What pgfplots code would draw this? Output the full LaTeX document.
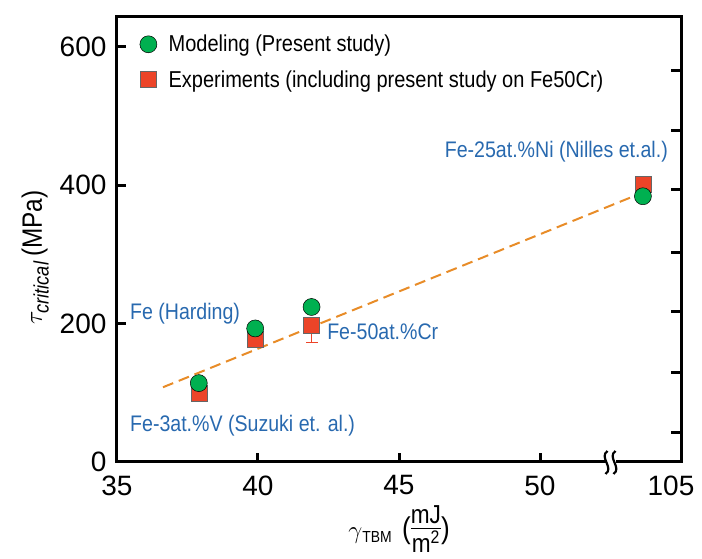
\documentclass[border=0pt]{standalone}
\usepackage{pgfplots}
\pgfplotsset{compat=1.18}
\usepackage{fontspec}
\setmainfont{Liberation Sans}
\newfontfamily\cond[FakeStretch=0.87]{Liberation Sans}
\definecolor{mgreen}{RGB}{0,176,80}
\definecolor{mred}{RGB}{236,68,40}
\definecolor{mblue}{RGB}{40,105,175}
\definecolor{morange}{RGB}{232,140,40}
\begin{document}
\begin{tikzpicture}
\useasboundingbox (-117pt,-97pt) rectangle (585pt,462pt);
\begin{axis}[
  scale only axis, width=564pt, height=445pt,
  xmin=35, xmax=55, ymin=0, ymax=643,
  axis line style={line width=3pt},
  xtick={35,40,45,50,55}, xticklabels={35,40,45,50,105\hspace*{20pt}},
  ytick={0,200,400,600},
  xtick pos=bottom, ytick pos=left,
  tick align=inside, major tick length=9pt,
  tick style={line width=3pt, black},
  /pgf/number format/assume math mode=true,
  tick label style={font=\fontsize{28}{30}\selectfont},
  xticklabel style={anchor=north, yshift=-10pt},
  yticklabel style={xshift=-7pt},
  xlabel={$\gamma$\textsubscript{\fontsize{16}{17}\selectfont\cond TBM}\,\,({\fontsize{26}{28}\selectfont\cond\begin{tabular}{@{}c@{}}mJ\\[-3pt]\hline\rule{0pt}{24pt}m\textsuperscript{2}\end{tabular}})},
  xlabel style={font=\fontsize{30}{32}\selectfont\cond, at={(axis description cs:0.5,-0.158)}, anchor=center},
  ylabel={$\tau_{\textit{\fontsize{21}{22}\selectfont critical}}$\,(MPa)},
  ylabel style={font=\fontsize{28}{30}\selectfont\cond, at={(axis description cs:-0.145,0.46)}, anchor=center, rotate=0},
  legend image code/.code={\draw[#1, mark repeat=1] plot coordinates {(0pt,0pt)}; \path (-9pt,0pt) (19pt,0pt);},
  legend style={at={(rel axis cs:0,1)}, anchor=north west, draw=none, fill=none, inner sep=0pt,
    font=\fontsize{23}{26}\selectfont\cond, row sep=15pt, xshift=22pt, yshift=-17pt,
    nodes={inner xsep=1pt, inner ysep=1pt}},
  legend cell align=left,
  clip=false,
]
\addlegendimage{only marks, mark=*, mark size=8.5pt, mark options={fill=mgreen, draw=black, line width=0.5pt}}
\addlegendimage{only marks, mark=square*, mark size=8pt, mark options={fill=mred, draw=black!60, line width=0.5pt}}
\legend{Modeling (Present study), Experiments (including present study on Fe50Cr)}

\addplot[forget plot, morange, line width=2pt, dash pattern=on 11pt off 6pt] coordinates {(36.63,108) (53.26,383)};

\addplot[forget plot, only marks, mark=square*, mark size=8pt, mark options={fill=mred, draw=black!60, line width=0.5pt},
  error bars/.cd, y dir=minus, y explicit, error bar style={mred, line width=1.2pt}, error mark options={rotate=90, mark size=6pt, mred, line width=1.2pt}]
  coordinates {(37.9,100) -= (0,0) (39.9,177) -= (0,0) (41.9,198) -= (0,25) (53.65,401) -= (0,0)};

\addplot[forget plot, only marks, mark=*, mark size=8.5pt, mark options={fill=mgreen, draw=black, line width=0.5pt}]
  coordinates {(37.9,114) (39.9,193) (41.9,224) (53.65,384)};

\node[anchor=west, mblue, font=\fontsize{22.5}{24}\selectfont\cond, inner sep=0pt] at (axis cs:35.46,215) {Fe (Harding)};
\node[anchor=west, mblue, font=\fontsize{22.5}{24}\selectfont\cond, inner sep=0pt] at (axis cs:42.45,188) {Fe-50at.\%Cr};
\node[anchor=west, mblue, font=\fontsize{22.5}{24}\selectfont\cond, inner sep=0pt] at (axis cs:35.46,53) {Fe-3at.\%V (Suzuki et. al.)};
\node[anchor=east, mblue, font=\fontsize{22.5}{24}\selectfont\cond, inner sep=0pt] at (axis cs:54.54,448) {Fe-25at.\%Ni (Nilles et.al.)};

\coordinate (brk) at (axis cs:52.5,0);
\end{axis}
\begin{axis}[
  scale only axis, width=564pt, height=445pt,
  xmin=35, xmax=55, ymin=0, ymax=643,
  hide x axis, axis y line*=right,
  axis line style={line width=3pt},
  ytick={42,130,217,302,394,479,566}, yticklabels={},
  tick align=inside, major tick length=10pt,
  tick style={line width=3pt, black},
]
\end{axis}
\fill[white] ([xshift=-5pt,yshift=-2.5pt]brk) rectangle ([xshift=5pt,yshift=2.5pt]brk);
\draw[line width=2.2pt] ([xshift=-5pt,yshift=-12pt]brk) .. controls +(9pt,6pt) and +(-9pt,-6pt) .. ([xshift=-3pt,yshift=11pt]brk);
\draw[line width=2.2pt] ([xshift=3pt,yshift=-12pt]brk) .. controls +(9pt,6pt) and +(-9pt,-6pt) .. ([xshift=5pt,yshift=11pt]brk);
\end{tikzpicture}
\end{document}
